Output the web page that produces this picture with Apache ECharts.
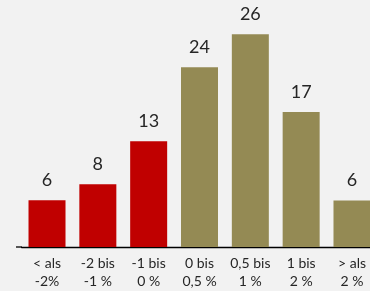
<!DOCTYPE html>
<html>
<head>
<meta charset="utf-8">
<script src="https://cdn.jsdelivr.net/npm/echarts@6/dist/echarts.min.js"></script>
<style>
html,body{margin:0;padding:0;background:#F2F2F2;}
#c{width:370px;height:291px;}
</style>
</head>
<body>
<div id="c"></div>
<script>
var categories = ["< als\n-2%", "-2 bis\n-1 %", "-1 bis\n0 %", "0 bis\n0,5 %", "0,5 bis\n1 %", "1 bis\n2 %", "> als\n2 %"];
var barValues = [5.77, 7.74, 13.05, 22.2, 26.26, 16.67, 5.75];
var labelTexts = ["6", "8", "13", "24", "26", "17", "6"];
var barColors = ["#C00000", "#C00000", "#C00000", "#948A54", "#948A54", "#948A54", "#948A54"];

var chart = echarts.init(document.getElementById('c'));
chart.setOption({
  backgroundColor: '#F2F2F2',
  animation: false,
  grid: {left: 21.6, width: 355.8, top: 4, bottom: 44, containLabel: false, outerBoundsMode: 'none'},
  xAxis: {
    type: 'category',
    data: categories,
    axisLine: {show: true, lineStyle: {color: '#000', width: 1.3}},
    axisTick: {show: false},
    axisLabel: {
      interval: 0,
      margin: 8,
      color: '#262626',
      fontFamily: 'Lato',
      fontSize: 14,
      lineHeight: 17.5
    }
  },
  yAxis: {
    type: 'value',
    min: 0,
    max: 30,
    show: false,
    splitLine: {show: false}
  },
  graphic: [{
    type: 'line',
    shape: {x1: 16, y1: 247, x2: 22, y2: 247},
    style: {stroke: '#000', lineWidth: 1.3}
  }],
  series: [{
    type: 'bar',
    barWidth: 37,
    data: barValues.map(function (v, i) {
      return {value: v, itemStyle: {color: barColors[i]}};
    }),
    label: {
      show: true,
      position: 'top',
      distance: 11,
      color: '#262626',
      fontFamily: 'Lato',
      fontSize: 18,
      formatter: function (p) { return labelTexts[p.dataIndex]; }
    }
  }]
});
</script>
</body>
</html>
